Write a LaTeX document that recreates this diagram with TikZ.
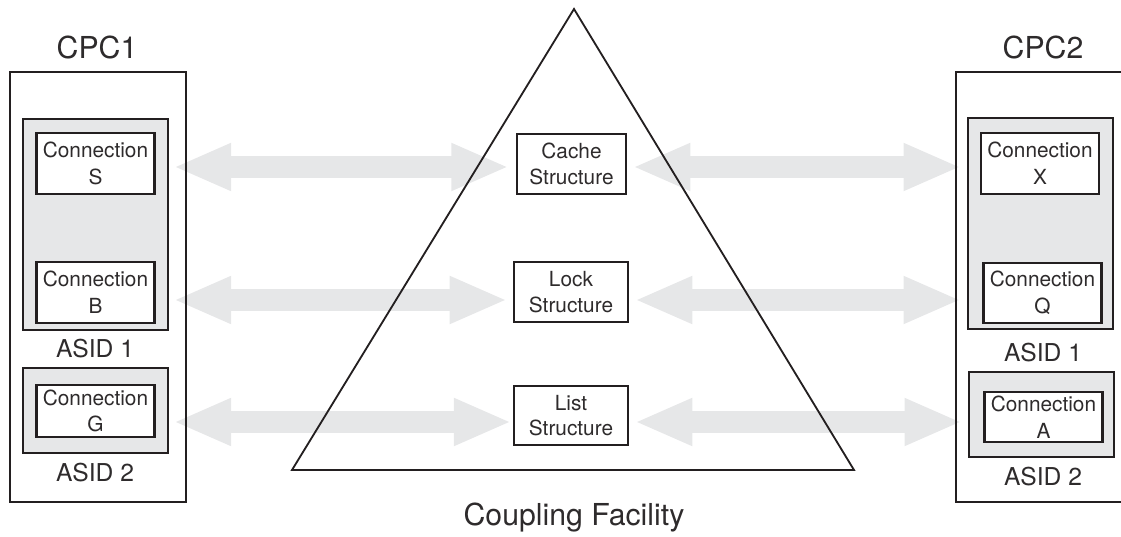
\documentclass[tikz,border=0pt]{standalone}
\usepackage{fontspec}
\setmainfont{TeX Gyre Heros}
\usetikzlibrary{arrows.meta,backgrounds}

\definecolor{boxgray}{HTML}{E6E7E8}
\definecolor{ink}{HTML}{231F20}
\definecolor{textink}{HTML}{2E2B2C}

\tikzset{
  cpcbox/.style={draw=ink, line width=1.1pt, minimum width=4.4cm, minimum height=10.75cm},
  asidbox/.style={draw=ink, fill=boxgray, line width=1.7pt, minimum width=3.625cm},
  connbox/.style={draw=ink, fill=white, line width=1.5pt, align=center, inner sep=0pt,
    minimum width=2.95cm, font=\fontsize{14.8}{19}\selectfont},
  structbox/.style={draw=ink, fill=white, line width=1.4pt, align=center, inner sep=0pt,
    minimum height=1.5cm, font=\fontsize{14.8}{18}\selectfont},
  bigtitle/.style={inner sep=0pt, font=\fontsize{21.5}{24}\selectfont},
  asidtitle/.style={inner sep=0pt, font=\fontsize{17.5}{20}\selectfont},
  link/.style={draw=boxgray, line width=15pt,
    {Triangle[length=41pt,width=31pt]}-{Triangle[length=41pt,width=31pt]}}
}

\begin{document}
\begin{tikzpicture}[x=0.025cm, y=-0.025cm, text=textink]
  \useasboundingbox (0,0) rectangle (1121,537);

  % coupling facility
  \coordinate (top) at (574,9);
  \coordinate (bl) at (292,470);
  \coordinate (br) at (854,470);
  \draw[ink, line width=1.3pt, line join=miter] (top) -- (br) -- (bl) -- cycle;
  \node[bigtitle] (cf) at (574,518) {Coupling Facility};

  \node[structbox, minimum width=2.725cm] (cache) at (571.5,164) {Cache\\Structure};
  \node[structbox, minimum width=2.85cm] (lock) at (571,292) {Lock\\Structure};
  \node[structbox, minimum width=2.85cm, minimum height=1.475cm] (list) at (571,415.5) {List\\Structure};

  % CPC1
  \node[cpcbox] (cpcL) at (98,287) {};
  \node[bigtitle] (cpcLtitle) at (97,47) {CPC1};
  \node[asidbox, minimum height=5.275cm] (asidL1) at (95.5,224.5) {};
  \node[connbox, minimum height=1.525cm] (S) at (95.5,163.5) {Connection\\S};
  \node[connbox, minimum height=1.525cm] (B) at (95.5,292.5) {Connection\\B};
  \node[asidtitle] (asidL1title) at (95,349) {ASID 1};
  \node[asidbox, minimum height=2.125cm] (asidL2) at (95.5,410.5) {};
  \node[connbox, minimum height=1.3cm] (G) at (95.5,411) {Connection\\G};
  \node[asidtitle] (asidL2title) at (95,473) {ASID 2};

  % CPC2
  \node[cpcbox, minimum width=4.6cm] (cpcR) at (1048,287) {};
  \node[bigtitle] (cpcRtitle) at (1043,47) {CPC2};
  \node[asidbox, minimum height=5.275cm] (asidR1) at (1040.5,223.5) {};
  \node[connbox, minimum height=1.525cm] (X) at (1040,163.5) {Connection\\X};
  \node[connbox, minimum height=1.5cm] (Q) at (1042.5,293) {Connection\\Q};
  \node[asidtitle] (asidR1title) at (1043,353) {ASID 1};
  \node[asidbox, minimum height=2.125cm] (asidR2) at (1041.5,414.5) {};
  \node[connbox, minimum height=1.25cm] (A) at (1043.5,417) {Connection\\A};
  \node[asidtitle] (asidR2title) at (1043,477) {ASID 2};

  % links, behind everything
  \coordinate (row1) at (0,167);
  \coordinate (row2) at (0,300);
  \coordinate (row3) at (0,422);
  \begin{scope}[on background layer]
    \draw[link] ([xshift=3pt]asidL1.east |- row1) -- ([xshift=-5pt]cache.west |- row1);
    \draw[link] ([xshift=4pt]cache.east |- row1) -- ([xshift=-4pt]asidR1.west |- row1);
    \draw[link] ([xshift=3pt]asidL1.east |- row2) -- ([xshift=-4pt]lock.west |- row2);
    \draw[link] ([xshift=4pt]lock.east |- row2) -- ([xshift=-4pt]asidR1.west |- row2);
    \draw[link] ([xshift=3pt]asidL2.east |- row3) -- ([xshift=-1pt]list.west |- row3);
    \draw[link] ([xshift=4pt]list.east |- row3) -- ([xshift=-4pt]asidR2.west |- row3);
  \end{scope}
\end{tikzpicture}
\end{document}
